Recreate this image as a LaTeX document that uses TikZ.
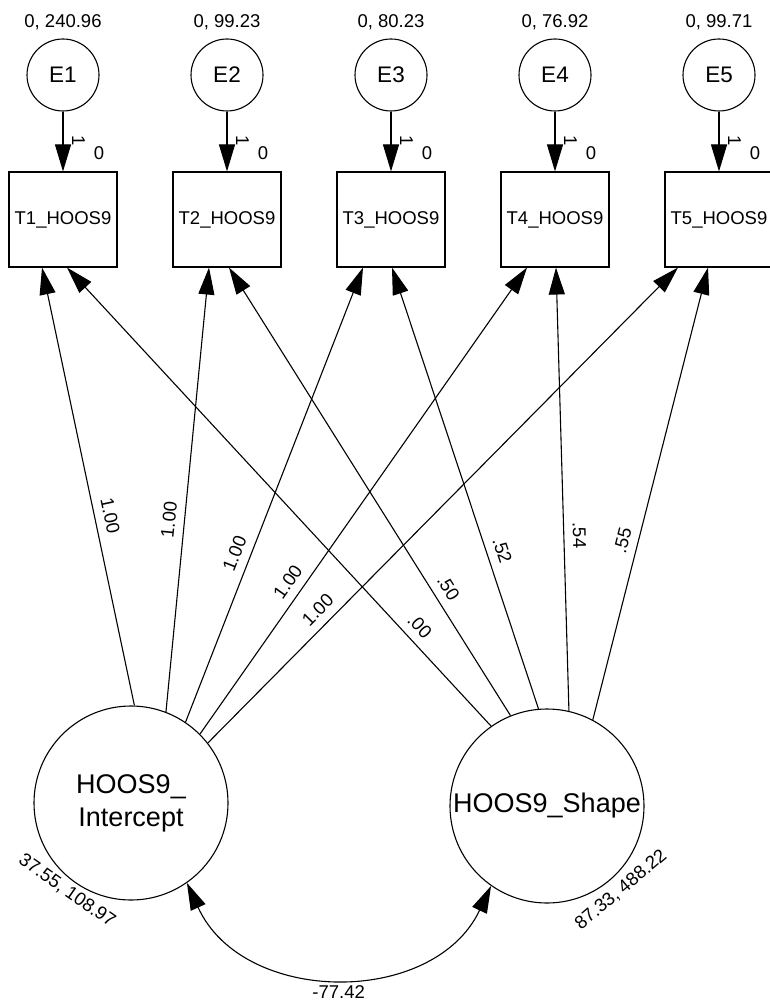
\documentclass[tikz,border=0pt]{standalone}
\usepackage{fontspec}
\setmainfont{Liberation Sans}
\usetikzlibrary{arrows.meta}
\begin{document}
\begin{tikzpicture}[x=1pt,y=-1pt,
  every node/.style={font=\fontsize{18.5}{22}\selectfont},
  ecirc/.style={draw, circle, line width=1.1pt, minimum size=72pt, inner sep=0pt,
    font=\fontsize{22.5}{26}\selectfont},
  obs/.style={draw, rectangle, line width=1.1pt, minimum width=108pt,
    minimum height=95pt, inner sep=0pt},
  lat/.style={draw, circle, line width=1.1pt, minimum size=194pt, inner sep=0pt,
    align=center, font=\fontsize{27}{33}\selectfont},
  conn/.style={line width=1.1pt, -{Triangle[length=27pt,width=16pt]}},
  cov/.style={line width=1.1pt,
    {Triangle[length=27pt,width=16pt]}-{Triangle[length=27pt,width=16pt]}},
  coef/.style={anchor=south, inner sep=1pt, outer sep=8pt},
]
\useasboundingbox (0,0) rectangle (770,1003);
\fill[white] (0,0) rectangle (770,1003);

% error terms, indicators and their intercepts
\foreach \i/\x/\v in {1/63/240.96, 2/227/99.23, 3/391/80.23, 4/555/76.92, 5/719/99.71} {
  \node[ecirc] (E\i) at (\x,75) {E\i};
  \node (V\i) at (\x,22) {0, \v};
  \node[obs] (T\i) at (\x,219.5) {T\i\_HOOS9};
  \draw[conn] (E\i) -- node[coef, pos=0.49, rotate=-90] {1} (T\i);
  \node (M\i) at ([xshift=36pt,yshift=18pt]T\i.north) {0};
}

% growth factors
\node[lat] (I) at (131,803) {HOOS9\_\\Intercept};
\node[lat] (S) at (547,806) {HOOS9\_Shape};

% intercept loadings
\draw[conn] (I.88.2) -- node[coef,pos=0.426,rotate=-78.2] {1.00} ([xshift=-21pt]T1.south);
\draw[conn] (I.69.9) -- node[coef,pos=0.429,rotate=84.2] {1.00} ([xshift=-18pt]T2.south);
\draw[conn] (I.56.3) -- node[coef,pos=0.358,rotate=68.6] {1.00} ([xshift=-28pt]T3.south);
\draw[conn] (I.45.4) -- node[coef,pos=0.3075,rotate=54.9] {1.00} ([xshift=-28pt]T4.south);
\draw[conn] (I.38.4) -- node[coef,pos=0.257,rotate=45.3] {1.00} ([xshift=-41pt]T5.south);

% shape loadings
\draw[conn] (S.125.8) -- node[coef,pos=0.195,rotate=-47.3] {.00} ([xshift=4pt]T1.south);
\draw[conn] (S.112.3) -- node[coef,pos=0.267,rotate=-57.9] {.50} ([xshift=2pt]T2.south);
\draw[conn] (S.95.4) -- node[coef,pos=0.348,rotate=-71.7] {.52} ([xshift=1pt]T3.south);
\draw[conn] (S.77.4) -- node[coef,pos=0.395,rotate=-88.5] {.54} ([xshift=1pt]T4.south);
\draw[conn] (S.62.1) -- node[coef,pos=0.389,rotate=75.6] {.55} ([xshift=-11pt]T5.south);

% factor covariance
\draw[cov] (I.-55.6) .. controls (243,1006) and (434,1007) ..
  node[pos=0.5, below=6pt] {-77.42} (S.-125.2);

% factor means and variances
\node[rotate=-35] (VI) at (67,891) {37.55, 108.97};
\node[rotate=40] (VS) at (621,890) {87.33, 488.22};
\end{tikzpicture}
\end{document}
